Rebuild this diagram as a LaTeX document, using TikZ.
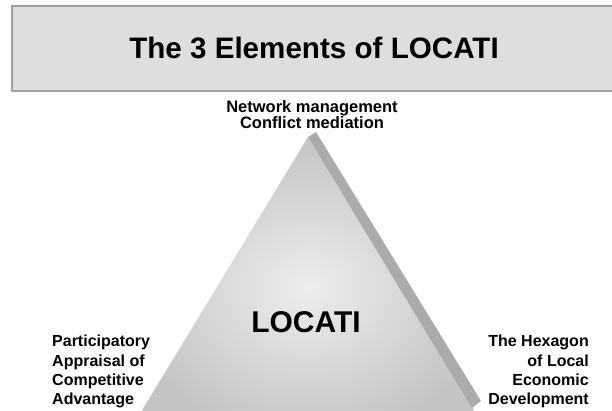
\documentclass[tikz,border=0pt]{standalone}
\usepackage{fontspec}
\setmainfont{Liberation Sans}
\definecolor{boxgray}{HTML}{DEDEDE}
\definecolor{edgegray}{HTML}{A0A0A0}
\definecolor{facelight}{HTML}{EDEDED}
\definecolor{facedark}{HTML}{C4C4C4}
\definecolor{sidegray}{HTML}{ABABAB}
\tikzset{cornertext/.style={font=\bfseries\fontsize{16}{19.3}\selectfont, inner sep=0pt}}

\begin{document}
\begin{tikzpicture}[x=1pt,y=-1pt]
      \useasboundingbox (0,0) rectangle (612,411);
      \clip (0,0) rectangle (612,411);
      \draw[edgegray, fill=boxgray, line width=1.2pt] (12,6) rectangle (620,91);
      \node[font=\bfseries\fontsize{29.6}{32}\selectfont, anchor=base] (title) at (314,59) {The 3 Elements of LOCATI};
      \shade[inner color=facelight, outer color=facedark] (308,137) -- (124,440) -- (492,440) -- cycle;
      \fill[sidegray] (308,137) -- (316,132) -- (481,401) -- (472,408) -- cycle;
      \node[font=\bfseries\fontsize{16.5}{16.5}\selectfont, align=center, anchor=north, inner sep=0pt] (apex) at (312,100) {Network management\\Conflict mediation};
      \node[font=\bfseries\fontsize{30}{30}\selectfont, anchor=north, inner sep=0pt] (core) at (306,311) {LOCATI};
      \node[cornertext, align=left, anchor=north west] (leftcorner) at (52,335) {Participatory\\Appraisal of\\Competitive\\Advantage};
      \node[cornertext, align=right, anchor=north east] (rightcorner) at (589,335) {The Hexagon\\of Local\\Economic\\Development};
    \end{tikzpicture}
\end{document}
